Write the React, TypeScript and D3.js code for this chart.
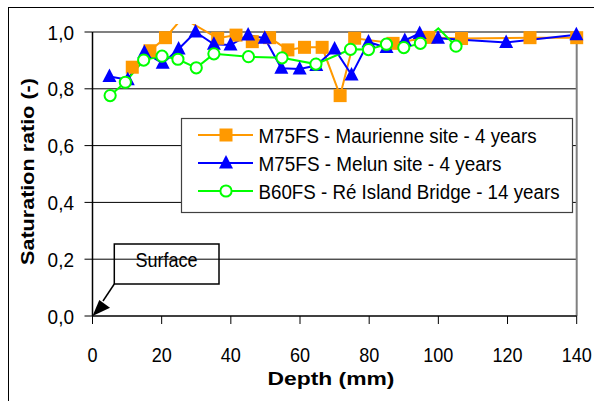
import React from "react";
import * as d3 from "d3";

const xTicks = [0, 20, 40, 60, 80, 100, 120, 140];
const yTicks = [0, 0.2, 0.4, 0.6, 0.8, 1.0];

const maurienneDepth = [11.5, 16.6, 21.1, 26, 36.2, 41.5, 46.2, 51.2, 56.5, 61.3, 66.4, 71.6, 75.8, 86.9, 97.3, 106.7, 126.5, 140];
const maurienneSat = [0.876, 0.934, 0.98, 1.05, 0.978, 0.989, 0.966, 0.98, 0.937, 0.946, 0.946, 0.776, 0.978, 0.96, 0.981, 0.977, 0.98, 0.98];

const melunDepth = [4.9, 10.2, 15, 20.3, 24.9, 29.8, 35.1, 39.9, 45, 49.8, 54.6, 59.9, 64.7, 70, 74.9, 79.8, 85, 90.3, 94.6, 99.9, 119.6, 139.9];
const melunSat = [0.843, 0.832, 0.928, 0.89, 0.94, 1.0, 0.957, 0.954, 0.989, 0.978, 0.872, 0.87, 0.882, 0.94, 0.849, 0.965, 0.945, 0.97, 0.995, 0.978, 0.963, 0.99];

const reDepth = [5.1, 9.5, 14.8, 20.1, 24.7, 30, 35.1, 45.1, 54.8, 64.6, 74.6, 79.8, 85, 90, 94.8, 100, 105.1];
const reSat = [0.776, 0.823, 0.901, 0.915, 0.904, 0.874, 0.923, 0.913, 0.909, 0.887, 0.939, 0.938, 0.957, 0.945, 0.96, 1.013, 0.95];

const legendLabels = [
  "M75FS - Maurienne site - 4 years",
  "M75FS - Melun site - 4 years",
  "B60FS - Ré Island Bridge - 14 years",
];

const ORANGE = "#FF9900";
const BLUE = "#0000FF";
const GREEN = "#00FF00";
const FONT = "'Liberation Sans', Arial, sans-serif";

type Pt = [number, number];
const zip = (a: number[], b: number[]): Pt[] => a.map((v, i) => [v, b[i]]);

export default function App() {
  const x = d3.scaleLinear().domain([0, 140]).range([92.5, 576.7]);
  const y = d3.scaleLinear().domain([0, 1]).range([316, 32]);
  const line = d3
    .line<Pt>()
    .x((d) => x(d[0]))
    .y((d) => y(d[1]));

  const series = [
    { pts: zip(maurienneDepth, maurienneSat), color: ORANGE, kind: "square" },
    { pts: zip(melunDepth, melunSat), color: BLUE, kind: "tri" },
    { pts: zip(reDepth, reSat), color: GREEN, kind: "circle" },
  ];

  const marker = (kind: string, color: string, cx: number, cy: number, key: string) => {
    if (kind === "square")
      return <rect key={key} x={cx - 6.5} y={cy - 6.5} width={13} height={13} fill={color} />;
    if (kind === "tri")
      return (
        <path
          key={key}
          d={`M${cx},${cy - 8} L${cx + 7},${cy + 5.5} L${cx - 7},${cy + 5.5} Z`}
          fill={color}
        />
      );
    return <circle key={key} cx={cx} cy={cy} r={5.6} fill="#fff" stroke={color} strokeWidth={2} />;
  };

  const legendW = [278, 243, 301];

  return (
    <svg
      width={594}
      height={401}
      style={{ position: "absolute", left: 0, top: 0, background: "#fff" }}
      fontFamily={FONT}
    >
      <defs>
        <clipPath id="plotclip">
          <rect x={x(0)} y={24} width={x(140) - x(0) + 10} height={y(0) - 24} />
        </clipPath>
      </defs>
      <rect x={8.5} y={7.5} width={620} height={420} fill="#fff" stroke="#000" strokeWidth={1} />

      {/* gridlines */}
      {yTicks
        .filter((t) => t > 0 && t < 1)
        .map((t) => (
          <line key={t} x1={x(0)} x2={x(140)} y1={y(t)} y2={y(t)} stroke="#000" strokeWidth={1} />
        ))}
      <line x1={x(0)} x2={x(140)} y1={y(1)} y2={y(1)} stroke="#808080" strokeWidth={2} />
      <line x1={x(140)} x2={x(140)} y1={y(1)} y2={y(0)} stroke="#808080" strokeWidth={2} />

      {/* axes */}
      <line x1={x(0)} x2={x(0)} y1={y(1)} y2={y(0)} stroke="#000" strokeWidth={1.5} />
      <line x1={x(0)} x2={x(140)} y1={y(0)} y2={y(0)} stroke="#000" strokeWidth={1.5} />
      {yTicks.map((t) => (
        <g key={"yt" + t}>
          <line x1={x(0) - 8} x2={x(0)} y1={y(t)} y2={y(t)} stroke="#000" strokeWidth={1} />
          <text
            transform={`translate(74,${y(t) + 7.5}) scale(0.95,1)`}
            textAnchor="end"
            fontSize={20}
            fill="#000"
          >
            {t.toFixed(1).replace(".", ",")}
          </text>
        </g>
      ))}
      {xTicks.map((t) => (
        <g key={"xt" + t}>
          <line x1={x(t)} x2={x(t)} y1={y(0)} y2={y(0) + 8} stroke="#000" strokeWidth={1} />
          <text
            transform={`translate(${x(t)},362) scale(0.88,1)`}
            textAnchor="middle"
            fontSize={20.5}
            fill="#000"
          >
            {t}
          </text>
        </g>
      ))}

      {/* series lines */}
      <g clipPath="url(#plotclip)">
        {series.map((s, i) => (
          <path key={"l" + i} d={line(s.pts) || ""} fill="none" stroke={s.color} strokeWidth={2} />
        ))}
      </g>
      {/* markers */}
      {series.map((s, i) =>
        s.pts
          .filter((p) => p[1] <= 1.0001)
          .map((p, j) => marker(s.kind, s.color, x(p[0]), y(p[1]), `m${i}-${j}`))
      )}

      {/* legend */}
      <rect x={181.5} y={118.5} width={391} height={94} fill="#fff" stroke="#404040" strokeWidth={1.2} />
      {series.map((s, i) => {
        const cy = 135 + i * 28;
        return (
          <g key={"lg" + i}>
            <line x1={198} x2={253} y1={cy} y2={cy} stroke={s.color} strokeWidth={2} />
            {marker(s.kind, s.color, 226, cy, "lm" + i)}
            <text
              x={258.5}
              y={cy + 7.5}
              fontSize={20}
              textLength={legendW[i]}
              lengthAdjust="spacingAndGlyphs"
              fill="#000"
            >
              {legendLabels[i]}
            </text>
          </g>
        );
      })}

      {/* axis titles */}
      <text
        x={267.5}
        y={385}
        fontSize={19}
        fontWeight="bold"
        textLength={127}
        lengthAdjust="spacingAndGlyphs"
        fill="#000"
      >
        Depth (mm)
      </text>
      <text
        transform="translate(34,265) rotate(-90)"
        fontSize={19}
        fontWeight="bold"
        textLength={187}
        lengthAdjust="spacingAndGlyphs"
        fill="#000"
      >
        Saturation ratio (-)
      </text>

      {/* Surface annotation */}
      <rect x={114.3} y={244} width={104.7} height={40} fill="none" stroke="#000" strokeWidth={1.5} />
      <text
        transform="translate(166.5,266.5) scale(0.88,1)"
        textAnchor="middle"
        fontSize={20.5}
        fill="#000"
      >
        Surface
      </text>
      <line x1={114.3} y1={284} x2={103} y2={301} stroke="#000" strokeWidth={1.5} />
      <path d="M92.5,316 L110,307.7 L99.3,300 Z" fill="#000" />
    </svg>
  );
}
